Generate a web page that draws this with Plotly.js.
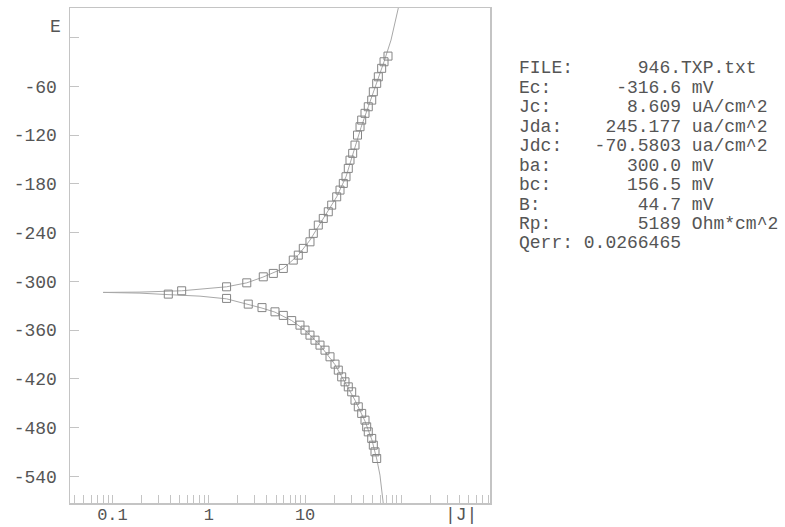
<!DOCTYPE html>
<html>
<head>
<meta charset="utf-8">
<script src="https://cdn.plot.ly/plotly-3.0.1.min.js"></script>
<style>html,body{margin:0;padding:0;background:#fff;}</style>
</head>
<body>
<div id="chart" style="width:785px;height:527px;"></div>
<script>
// ---- data ----
// fitted curve, anodic branch (|J| in uA/cm^2, E in mV)
const anodicLineJ = [0.080, 0.193, 0.523, 1.53, 2.48, 3.65, 5.94, 8.50, 11.24, 15.45, 21.29, 26.6, 32.0, 38.0, 45.3, 55.4, 66.0, 78.0, 92.9];
const anodicLineE = [-313.7, -313.3, -311.7, -306.8, -301.9, -294.9, -284.2, -267.8, -249.3, -222.6, -196.0, -171.3, -140.0, -111.0, -85.1, -56.3, -29.7, -3.0, 36.5];
// fitted curve, cathodic branch
const cathodicLineJ = [0.080, 0.193, 0.377, 0.810, 1.53, 2.57, 3.57, 4.87, 7.26, 9.98, 14.28, 20.44, 25.96, 32.97, 41.9, 49.5, 55.8, 59.9, 65.5];
const cathodicLineE = [-313.7, -314.6, -316.4, -318.3, -321.6, -328.1, -333.0, -338.0, -348.4, -360.1, -378.6, -402.6, -424.2, -446.4, -472.2, -495.6, -520.3, -538.7, -578.0];
// measured points, anodic
const anodicJ = [0.523, 1.53, 2.48, 3.68, 4.68, 5.94, 7.54, 8.50, 9.58, 11.24, 12.17, 13.71, 15.45, 17.41, 18.89, 21.29, 23.04, 24.93, 26.6, 28.09, 29.26, 31.2, 32.97, 35.0, 37.2, 38.7, 41.9, 45.3, 49.2, 51.1, 55.4, 57.6, 62.4, 66.0, 72.6];
const anodicE = [-311.7, -306.8, -301.9, -294.5, -290.3, -284.2, -273.9, -267.8, -259.5, -251.4, -241.0, -230.8, -222.6, -214.4, -206.2, -196.0, -187.7, -179.5, -171.3, -161.0, -150.8, -142.5, -132.3, -120.0, -109.7, -101.5, -93.2, -85.1, -76.9, -66.6, -56.3, -48.2, -37.8, -29.7, -22.7];
// measured points, cathodic
const cathodicJ = [0.380, 1.53, 2.57, 3.57, 4.87, 5.94, 7.26, 8.85, 9.98, 11.24, 12.67, 14.28, 16.10, 18.14, 20.44, 22.12, 23.99, 25.96, 28.09, 30.47, 32.97, 35.68, 38.7, 41.9, 43.6, 45.3, 49.2, 51.1, 53.2, 55.4];
const cathodicE = [-315.8, -321.1, -328.1, -332.4, -337.6, -342.0, -348.4, -354.0, -360.1, -366.3, -372.5, -378.6, -384.8, -393.0, -402.0, -409.4, -417.7, -423.8, -430.0, -436.1, -446.4, -454.6, -462.7, -471.0, -479.2, -485.4, -493.5, -501.8, -510.0, -518.2];

// tick labels
const xTickVals = [0.04, 0.05, 0.06, 0.07, 0.08, 0.09, 0.1, 0.2, 0.3, 0.4, 0.5, 0.6, 0.7, 0.8, 0.9, 1, 2, 3, 4, 5, 6, 7, 8, 9, 10, 20, 30, 40, 50, 60, 70, 80, 90, 100, 200, 300, 400, 500, 600, 700, 800];
const xLabeled = {0.1: '0.1', 1: '1', 10: '10'};
const yTickVals = [0, -60, -120, -180, -240, -300, -360, -420, -480, -540];
const yTickText = ['', '-60', '-120', '-180', '-240', '-300', '-360', '-420', '-480', '-540'];

// fit results panel
const statLabels = ['FILE:', 'Ec:', 'Jc:', 'Jda:', 'Jdc:', 'ba:', 'bc:', 'B:', 'Rp:', 'Qerr:'];
const statValues = ['946.TXP.txt', '-316.6', '8.609', '245.177', '-70.5803', '300.0', '156.5', '44.7', '5189', '0.0266465'];
const statUnits = ['', 'mV', 'uA/cm^2', 'ua/cm^2', 'ua/cm^2', 'mV', 'mV', 'mV', 'Ohm*cm^2', ''];

// ---- drawing ----
const FONT = '"Courier New", "Liberation Mono", monospace';
const TXT = '#555555';
const LINEC = '#c4c4c4';
const L = 70, R = 490, T = 8, B = 503;
const px = x => (x - L) / (R - L);
const py = y => (B - y) / (B - T);

const curveStyle = {color: '#a8a8a8', width: 1};
const markStyle = {symbol: 'square-open', size: 8, color: '#858585', line: {width: 1, color: '#858585'}};

const traces = [
  {x: anodicLineJ, y: anodicLineE, mode: 'lines', line: curveStyle, hoverinfo: 'skip', showlegend: false},
  {x: cathodicLineJ, y: cathodicLineE, mode: 'lines', line: curveStyle, hoverinfo: 'skip', showlegend: false},
  {x: anodicJ, y: anodicE, mode: 'markers', marker: markStyle, showlegend: false},
  {x: cathodicJ, y: cathodicE, mode: 'markers', marker: markStyle, showlegend: false}
];

const nb = s => s.replace(/ /g, '\u00a0');
const annotations = [];
statLabels.forEach((lab, i) => {
  let line;
  if (i === 0) {
    line = lab.padEnd(6) + statValues[i].padStart(16);
  } else {
    line = lab.padEnd(6) + statValues[i].padStart(9) + (statUnits[i] ? ' ' + statUnits[i] : '');
  }
  annotations.push({
    xref: 'paper', yref: 'paper', x: px(517), y: py(68 + i * 19.5),
    xanchor: 'left', yanchor: 'middle', showarrow: false,
    text: nb(line), font: {family: FONT, size: 18, color: TXT}
  });
});
annotations.push({xref: 'paper', yref: 'paper', x: px(63), y: py(27), xanchor: 'right', yanchor: 'middle',
  showarrow: false, text: 'E', font: {family: FONT, size: 18, color: TXT}});
annotations.push({xref: 'paper', yref: 'paper', x: px(461), y: py(515), xanchor: 'center', yanchor: 'middle',
  showarrow: false, text: '|J|', font: {family: FONT, size: 18, color: TXT}});

const layout = {
  width: 785, height: 527,
  margin: {l: L, r: 785 - R, t: T, b: 527 - B, pad: 0},
  paper_bgcolor: '#ffffff', plot_bgcolor: '#ffffff',
  showlegend: false,
  font: {family: FONT, size: 18, color: TXT},
  xaxis: {
    type: 'log', range: [-1.441, 2.920],
    tickmode: 'array', tickvals: xTickVals,
    ticktext: xTickVals.map(v => xLabeled[v] || ''),
    ticks: 'inside', ticklen: 8, tickwidth: 1, tickcolor: LINEC,
    showline: true, linecolor: LINEC, linewidth: 1.5, mirror: true,
    showgrid: false, zeroline: false, ticklabelstandoff: -5,
    tickfont: {family: FONT, size: 17, color: TXT}
  },
  yaxis: {
    range: [-573, 36.5],
    tickmode: 'array', tickvals: yTickVals, ticktext: yTickText,
    ticks: 'inside', ticklen: 9, tickwidth: 1, tickcolor: LINEC,
    showline: true, linecolor: LINEC, linewidth: 1.5, mirror: true,
    showgrid: false, zeroline: false, ticklabelstandoff: 8,
    tickfont: {family: FONT, size: 18, color: TXT}
  },
  annotations: annotations
};

Plotly.newPlot('chart', traces, layout, {displayModeBar: false, staticPlot: true});
</script>
</body>
</html>
